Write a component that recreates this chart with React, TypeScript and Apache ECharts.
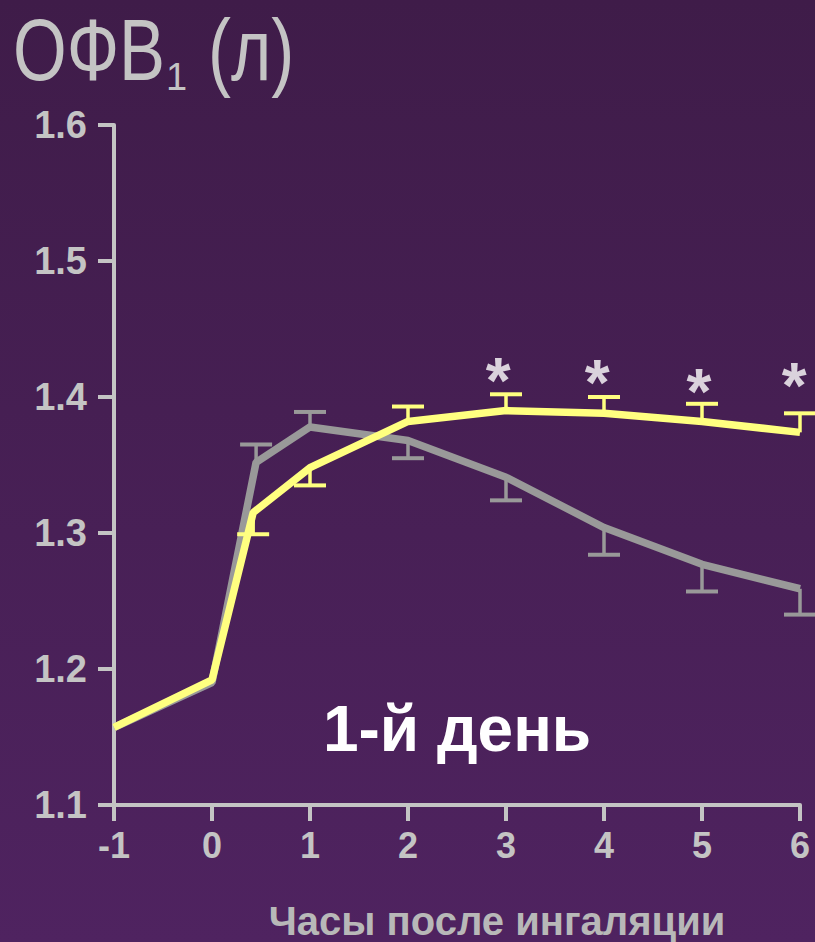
import React, { useEffect, useRef } from "react";
import * as echarts from "echarts";

// ---- data ----
const xTickMin = -1;
const xTickMax = 6;
const yTickMin = 1.1;
const yTickMax = 1.6;

const hoursYellow = [-1, 0, 0.42, 1, 2, 3, 4, 5, 6];
const yellowFev1 = [1.157, 1.192, 1.315, 1.348, 1.382, 1.39, 1.388, 1.382, 1.374];
const yellowErrEnd = [null, null, 1.299, 1.335, 1.393, 1.402, 1.4, 1.395, 1.388];

const hoursGray = [-1, 0, 0.45, 1, 2, 3, 4, 5, 6];
const grayFev1 = [1.157, 1.19, 1.352, 1.378, 1.368, 1.341, 1.304, 1.277, 1.259];
const grayErrEnd = [null, null, 1.365, 1.389, 1.355, 1.324, 1.284, 1.257, 1.24];

const starHours = [2.92, 3.93, 4.97, 5.94];
const starLevels = [1.421, 1.42, 1.413, 1.418];

const titleMain = "ОФВ";
const titleSub = "1";
const titleUnit = "(л)";
const dayLabel = "1-й день";
const xAxisTitle = "Часы после ингаляции";

const FONT = "'Liberation Sans', Arial, sans-serif";
const YELLOW = "#ffff80";
const GRAY = "#999999";
const AXIS = "#c4c4c4";

function pairs(xs: number[], ys: number[]) {
  return xs.map((x, i) => [x, ys[i]]);
}
function errTriples(xs: number[], ys: number[], es: (number | null)[]) {
  const out: number[][] = [];
  xs.forEach((x, i) => {
    const e = es[i];
    if (e !== null && e !== undefined) out.push([x, ys[i], e]);
  });
  return out;
}

function errorRenderer(color: string) {
  return (params: any, api: any) => {
    const x = api.value(0);
    const y = api.value(1);
    const e = api.value(2);
    const p = api.coord([x, y]);
    const q = api.coord([x, e]);
    const half = 16;
    return {
      type: "group",
      children: [
        {
          type: "line",
          shape: { x1: p[0], y1: p[1], x2: q[0], y2: q[1] },
          style: { stroke: color, lineWidth: 3.5 },
        },
        {
          type: "line",
          shape: { x1: q[0] - half, y1: q[1], x2: q[0] + half, y2: q[1] },
          style: { stroke: color, lineWidth: 4 },
        },
      ],
    };
  };
}

export default function App() {
  const ref = useRef<HTMLDivElement>(null);

  useEffect(() => {
    if (!ref.current) return;
    const chart = echarts.init(ref.current, undefined, { renderer: "svg" });
    const option: any = {
      animation: false,
      grid: { left: 114, right: 15, top: 125, bottom: 137, containLabel: false },
      xAxis: {
        type: "value",
        min: xTickMin,
        max: xTickMax,
        interval: 1,
        splitLine: { show: false },
        axisLine: { show: true, onZero: false, lineStyle: { color: AXIS, width: 4 } },
        axisTick: { show: true, length: 16, lineStyle: { color: AXIS, width: 4 } },
        axisLabel: {
          color: AXIS,
          fontSize: 36,
          fontWeight: "bold",
          fontFamily: FONT,
          margin: 22,
        },
      },
      yAxis: {
        type: "value",
        min: yTickMin,
        max: yTickMax,
        interval: 0.1,
        splitLine: { show: false },
        axisLine: { show: true, onZero: false, lineStyle: { color: AXIS, width: 4 } },
        axisTick: { show: true, length: 16, lineStyle: { color: AXIS, width: 4 } },
        axisLabel: {
          color: AXIS,
          fontSize: 38,
          fontWeight: "bold",
          fontFamily: FONT,
          margin: 27,
          formatter: (v: number) => v.toFixed(1),
        },
      },
      series: [
        {
          type: "line",
          data: pairs(hoursGray, grayFev1),
          symbol: "none",
          lineStyle: { color: GRAY, width: 7.5 },
          z: 2,
        },
        {
          type: "custom",
          data: errTriples(hoursGray, grayFev1, grayErrEnd),
          renderItem: errorRenderer(GRAY),
          clip: false,
          z: 3,
        },
        {
          type: "custom",
          data: errTriples(hoursYellow, yellowFev1, yellowErrEnd),
          renderItem: errorRenderer(YELLOW),
          clip: false,
          z: 4,
        },
        {
          type: "line",
          data: pairs(hoursYellow, yellowFev1),
          symbol: "none",
          lineStyle: { color: YELLOW, width: 7.5 },
          z: 5,
        },
        {
          type: "scatter",
          data: pairs(starHours, starLevels),
          symbolSize: 0,
          z: 6,
          label: {
            show: true,
            position: "inside",
            formatter: "*",
            color: "#ffffff",
            fontSize: 64,
            fontWeight: "bold",
            fontFamily: FONT,
            offset: [0, 13],
          },
        },
      ],
      graphic: [
        {
          type: "text",
          x: 13,
          y: 50,
          scaleY: 1.27,
          style: {
            text: titleMain,
            fontSize: 69,
            lineHeight: 62,
            fontFamily: FONT,
            fill: "#c4c4c4",
            verticalAlign: "middle",
            align: "left",
          },
        },
        {
          type: "text",
          x: 166,
          y: 77,
          style: {
            text: titleSub,
            fontSize: 38,
            fontFamily: FONT,
            fill: "#c4c4c4",
            verticalAlign: "middle",
            align: "left",
          },
        },
        {
          type: "text",
          x: 208,
          y: 50,
          scaleY: 1.27,
          style: {
            text: titleUnit,
            fontSize: 69,
            lineHeight: 62,
            fontFamily: FONT,
            fill: "#c4c4c4",
            verticalAlign: "middle",
            align: "left",
          },
        },
        {
          type: "text",
          x: 457,
          y: 729,
          style: {
            text: dayLabel,
            fontSize: 64,
            fontWeight: "bold",
            fontFamily: FONT,
            fill: "#ffffff",
            verticalAlign: "middle",
            align: "center",
          },
        },
        {
          type: "text",
          x: 497,
          y: 921,
          style: {
            text: xAxisTitle,
            fontSize: 40,
            fontWeight: "bold",
            fontFamily: FONT,
            fill: "#b8b8b8",
            verticalAlign: "middle",
            align: "center",
          },
        },
      ],
    };
    chart.setOption(option);
    return () => chart.dispose();
  }, []);

  return (
    <div
      ref={ref}
      style={{
        position: "fixed",
        left: 0,
        top: 0,
        width: 815,
        height: 942,
        background: "linear-gradient(180deg, #3f1c49 0%, #4f2360 100%)",
      }}
    />
  );
}
